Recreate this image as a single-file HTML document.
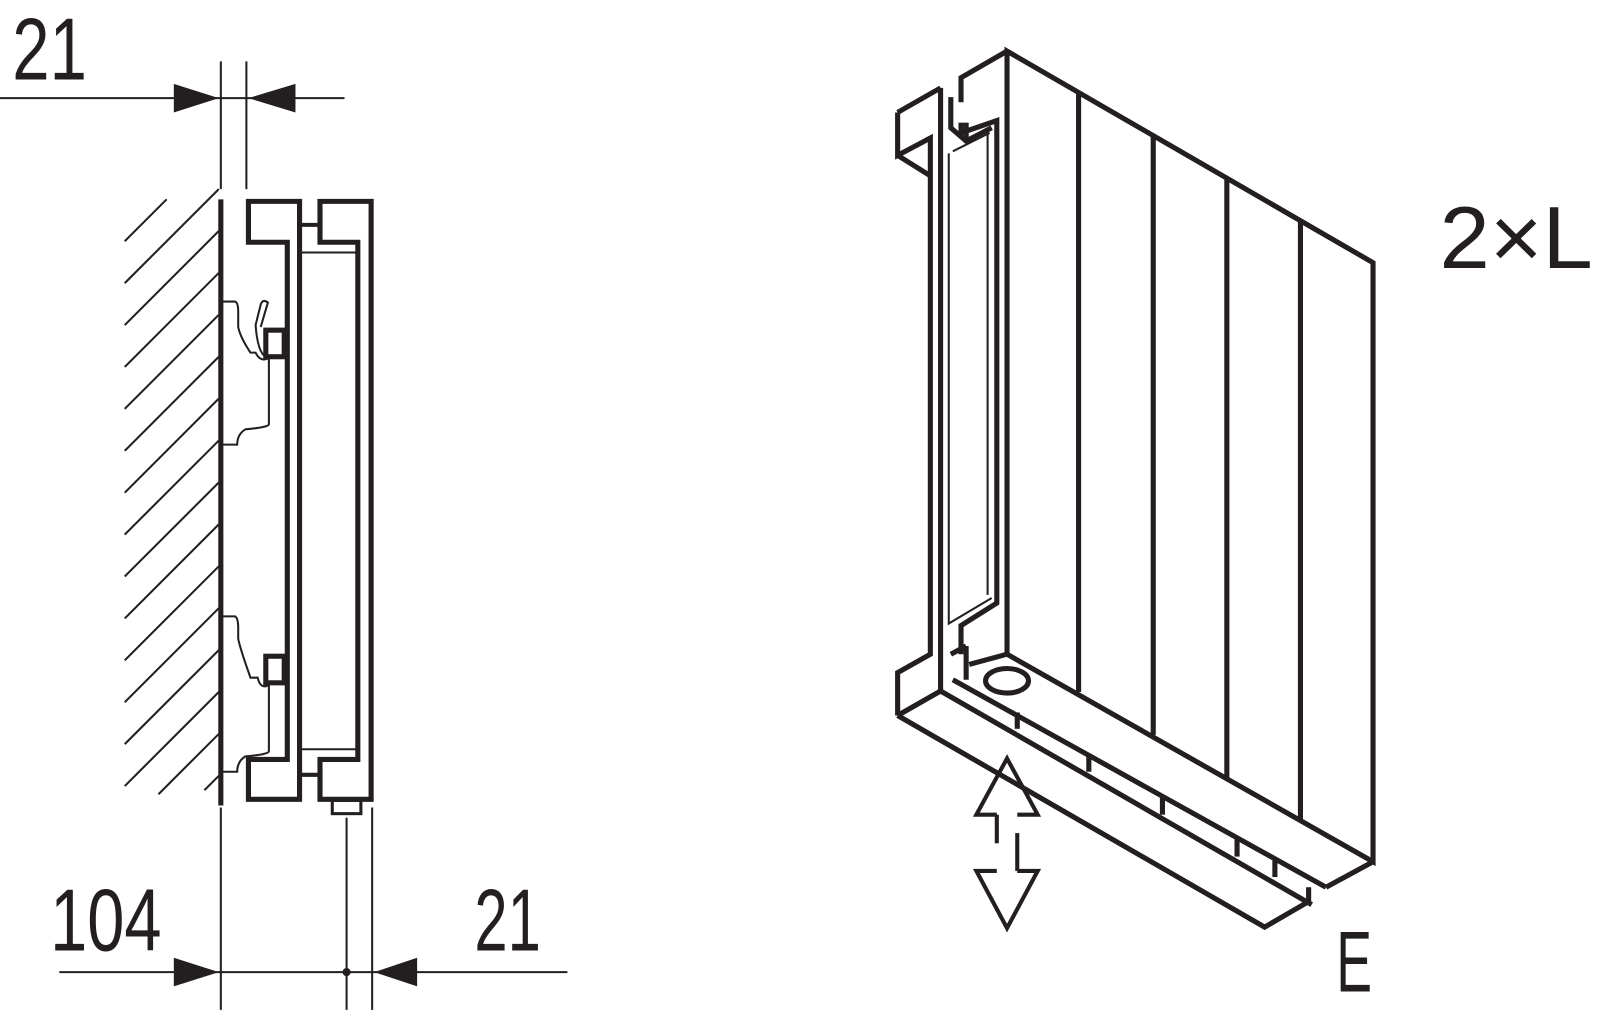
<!DOCTYPE html>
<html><head><meta charset="utf-8"><style>
html,body{margin:0;padding:0;background:#fff;}
svg{display:block;}
text{font-family:"Liberation Sans",sans-serif;fill:#231f20;}
</style></head><body>
<svg width="1600" height="1014" viewBox="0 0 1565 992" preserveAspectRatio="none" xmlns="http://www.w3.org/2000/svg">
<g stroke="#231f20" fill="none" stroke-linejoin="miter" stroke-linecap="butt">
<!-- top dimension -->
<line x1="0" y1="96" x2="337" y2="96" stroke-width="2"/>
<line x1="216" y1="60" x2="216" y2="185" stroke-width="2"/>
<line x1="241" y1="60" x2="241" y2="185" stroke-width="2"/>
<polygon points="170,82 214,96 170,110" fill="#231f20" stroke="none"/>
<polygon points="289,82 243,96 289,110" fill="#231f20" stroke="none"/>
<!-- wall -->
<line x1="216" y1="195" x2="216" y2="788" stroke-width="5"/>
<g stroke-width="2">
<line x1="122" y1="236" x2="163" y2="195"/>
<line x1="122" y1="277" x2="214" y2="185"/>
<line x1="122" y1="318" x2="214" y2="226"/>
<line x1="122" y1="359" x2="214" y2="267"/>
<line x1="122" y1="400" x2="214" y2="308"/>
<line x1="122" y1="441" x2="214" y2="349"/>
<line x1="122" y1="482" x2="214" y2="390"/>
<line x1="122" y1="523" x2="214" y2="431"/>
<line x1="122" y1="564" x2="214" y2="472"/>
<line x1="122" y1="605" x2="214" y2="513"/>
<line x1="122" y1="646" x2="214" y2="554"/>
<line x1="122" y1="687" x2="214" y2="595"/>
<line x1="122" y1="728" x2="214" y2="636"/>
<line x1="122" y1="769" x2="214" y2="677"/>
<line x1="155" y1="777" x2="214" y2="718"/>
<line x1="200" y1="773" x2="214" y2="759"/>
</g>
<!-- brackets side view -->
<polygon points="243,197 293,197 293,782 243,782 243,743 281,743 281,237 243,237" stroke-width="5"/>
<polygon points="313,197 363,197 363,782 313,782 313,743 350,743 350,237 313,237" stroke-width="5"/>
<line x1="293" y1="220" x2="313" y2="220" stroke-width="4"/>
<line x1="293" y1="758" x2="313" y2="758" stroke-width="4"/>
<line x1="295" y1="247" x2="350" y2="247" stroke-width="2"/>
<line x1="295" y1="733" x2="350" y2="733" stroke-width="2"/>
<rect x="325" y="783" width="28" height="13" stroke-width="3"/>
<!-- hooks -->
<rect x="260" y="323" width="18" height="26" stroke-width="5"/>
<path d="M217,295 H230 Q233,296 233,305 V320 Q235,330 245,345 H250 Q255,355 263,350 V415 Q263,418 240,420 Q232,425 232,435 H217" stroke-width="2"/>
<path d="M255,320 L262,296 Q257,292 255,298 L250,318 Q252,345 260,349" stroke-width="2"/>
<rect x="260" y="642" width="18" height="26" stroke-width="5"/>
<path d="M217,603 H230 Q233,605 233,614 V625 Q235,635 245,663 H252 Q255,675 263,670 V735 Q263,738 240,740 Q232,745 232,755 H217" stroke-width="2"/>
<!-- bottom dimension -->
<line x1="216" y1="790" x2="216" y2="988" stroke-width="2"/>
<line x1="339" y1="800" x2="339" y2="988" stroke-width="2"/>
<line x1="364" y1="790" x2="364" y2="988" stroke-width="2"/>
<line x1="58" y1="951" x2="555" y2="951" stroke-width="2"/>
<polygon points="170,937 214,951 170,965" fill="#231f20" stroke="none"/>
<polygon points="408,937 366,951 408,965" fill="#231f20" stroke="none"/>
<circle cx="339" cy="951" r="4" fill="#231f20" stroke="none"/>

<!-- isometric radiator -->
<g stroke-width="5">
<polygon points="985,50 1343,257 1343,843 985,640"/>
<line x1="1055" y1="91" x2="1055" y2="677"/>
<line x1="1128" y1="133" x2="1128" y2="719"/>
<line x1="1200" y1="175" x2="1200" y2="761"/>
<line x1="1272" y1="216" x2="1272" y2="802"/>
<polyline points="985,50 940,76 940,100"/>
<polyline points="940,120 940,130 975,118 975,590 940,612 940,640"/>
<polyline points="920,86 920,678"/>
<polyline points="878,110 920,86"/>
<polyline points="878,110 878,152 910,135 910,640 878,658 878,700"/>
<line x1="878" y1="152" x2="910" y2="172"/>
<polyline points="930,95 930,125 945,138 970,125"/>
<line x1="945" y1="138" x2="945" y2="120"/>
</g>
<g stroke-width="2">
<polyline points="928,150 928,610 970,585"/>
<line x1="932" y1="148" x2="968" y2="130"/>
<line x1="966" y1="128" x2="966" y2="582"/>
</g>
<g stroke-width="5">
<polyline points="878,700 1237,907 1280,882 1280,868"/>
<line x1="878" y1="700" x2="920" y2="676"/>
<line x1="920" y1="676" x2="1283" y2="885"/>
<line x1="932" y1="665" x2="1297" y2="868"/>
<polyline points="1297,868 1343,843"/>
<line x1="948" y1="650" x2="985" y2="640"/>
<line x1="930" y1="640" x2="945" y2="632"/>
<line x1="945" y1="632" x2="945" y2="665"/>
<line x1="995" y1="697" x2="995" y2="713"/>
<line x1="1065" y1="738" x2="1065" y2="755"/>
<line x1="1137" y1="780" x2="1137" y2="797"/>
<line x1="1210" y1="820" x2="1210" y2="838"/>
<line x1="1247" y1="842" x2="1247" y2="858"/>
<ellipse cx="985" cy="666" rx="21" ry="12"/>
</g>
<g stroke-width="4">
<polyline points="975,797 955,797 985,742 1015,797 995,797"/>
<line x1="975" y1="797" x2="975" y2="825"/>
<line x1="995" y1="815" x2="995" y2="852"/>
<polyline points="975,852 955,852 985,908 1015,852 995,852"/>
</g>
</g>
<text x="12" y="78" font-size="86" textLength="73" lengthAdjust="spacingAndGlyphs">21</text>
<text x="49" y="930" font-size="86" textLength="109" lengthAdjust="spacingAndGlyphs">104</text>
<text x="464" y="930" font-size="86" textLength="65" lengthAdjust="spacingAndGlyphs">21</text>
<text x="1408" y="262" font-size="86" textLength="150" lengthAdjust="spacingAndGlyphs">2×L</text>
<text x="1307" y="970" font-size="84" textLength="35" lengthAdjust="spacingAndGlyphs">E</text>
</svg>
</body></html>
